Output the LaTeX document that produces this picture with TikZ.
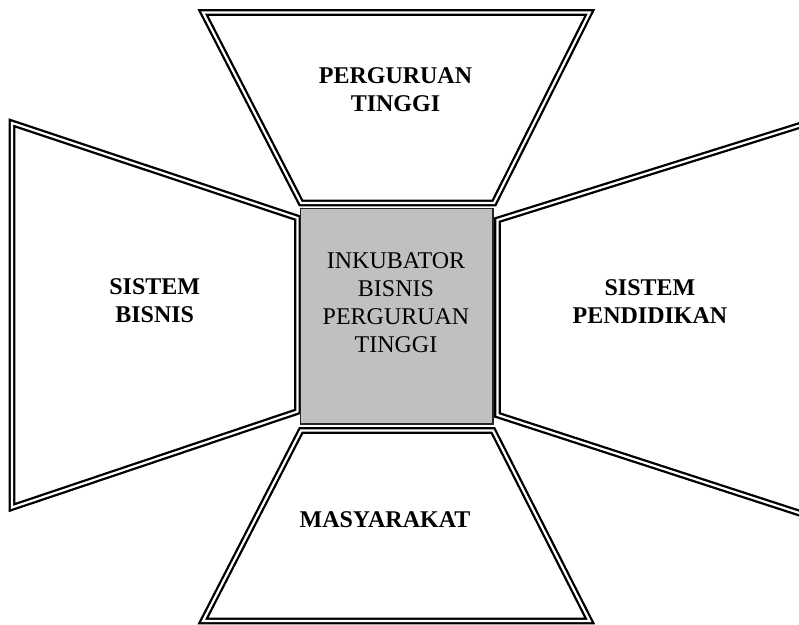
\documentclass[tikz,border=0pt]{standalone}
\usepackage{fontspec}
\setmainfont{Liberation Serif}
\definecolor{boxgray}{RGB}{192,192,192}
\tikzstyle{wall}=[draw=black,
                  line width=1.15pt,
                  double=white,
                  double distance=1.1pt,
                  line join=miter]
\tikzstyle{core}=[draw=black!85,
                  line width=0.7pt,
                  fill=boxgray]
\tikzstyle{sidetext}=[align=center,
                      inner sep=0pt,
                      font=\fontsize{12}{14}\selectfont\bfseries]
\tikzstyle{coretext}=[align=center,
                      inner sep=0pt,
                      font=\fontsize{12}{14}\selectfont]

\begin{document}
\begin{tikzpicture}[x=0.5pt,y=-0.5pt]
    \useasboundingbox (0,0) rectangle (799,625);
    \clip (0,0) rectangle (799,625);
    % the four sides round the incubator
    \draw[wall] (203,12.5) -- (589.7,12.5) -- (494,203) -- (301,203) -- cycle;
    \draw[wall] (12,123) -- (297.5,218) -- (297.5,411.5) -- (12,507.5) -- cycle;
    \draw[wall] (497.5,220) -- (830,116) -- (830,523) -- (497.5,415) -- cycle;
    \draw[wall] (301,430.5) -- (493,430.5) -- (589.7,621) -- (203,621) -- cycle;
    % centre box
    \draw[core] (300.5,208.5) rectangle (493,424);
    \node[sidetext] (pt) at (395.5,90) {PERGURUAN\\TINGGI};
    \node[sidetext] (sb) at (154.7,300.5) {SISTEM\\BISNIS};
    \node[sidetext] (sp) at (650,302) {SISTEM\\PENDIDIKAN};
    \node[sidetext] (ms) at (385,520) {MASYARAKAT};
    \node[coretext] (ib) at (396,302.6) {INKUBATOR\\BISNIS\\PERGURUAN\\TINGGI};
\end{tikzpicture}
\end{document}
